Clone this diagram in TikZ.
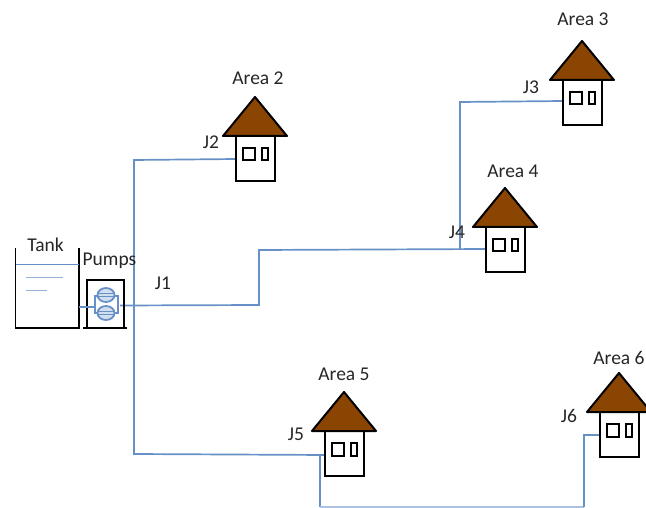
\documentclass[tikz,border=0pt]{standalone}
\usepackage{fontspec}
\setmainfont{Carlito}
\definecolor{pipe}{HTML}{6690C6}
\definecolor{roof}{HTML}{8B4503}
\tikzset{
  x=1pt,y=-1pt,
  pipeline/.style={draw=pipe,line width=1.7pt},
  wall/.style={draw=black,line width=2pt},
  lbl/.style={font=\fontsize{19.5}{22}\selectfont,text=black!85,inner sep=0pt},
  house/.pic={
    \draw[wall,fill=white] (-19,39) rectangle (20,84);
    \draw[wall,fill=roof,line join=round] (0,0) -- (32,39) -- (-32,39) -- cycle;
    \draw[wall,fill=white] (-12.5,51) rectangle (0,63.5);
    \draw[wall,fill=white] (6.5,51) rectangle (13,63.5);
  }
}
\begin{document}
\begin{tikzpicture}
\useasboundingbox (0,0) rectangle (646,508);
\coordinate (main top) at (134,160);
\coordinate (main bot) at (134,454);
\coordinate (pump out) at (120,305.5);
\coordinate (j1a) at (259,305);
\coordinate (j1b) at (259,250);
\coordinate (j4in) at (487,249);
\coordinate (j3a) at (460,249.5);
\coordinate (j3b) at (460,102);
\coordinate (j3in) at (563,101);
\coordinate (j2in) at (236,159);
\coordinate (j5a) at (320,455);
\coordinate (j5in) at (326,455);
\coordinate (j5b) at (320,507);
\coordinate (j6a) at (584,507);
\coordinate (j6b) at (584,435);
\coordinate (j6in) at (601,435);
% pipes
\draw[pipeline] (j2in) -- (main top) -- (main bot) -- (j5in);
\draw[pipeline] (pump out) -- (j1a) -- (j1b) -- (j4in);
\draw[pipeline] (j3a) -- (j3b) -- (j3in);
\draw[pipeline] (j5a) -- (j5b);
\draw[draw=pipe!55,line width=1.2pt] (j5b) -- (j6a);
\draw[pipeline] (j6a) -- (j6b) -- (j6in);
% houses
\pic at (255,97) {house};
\pic at (582,41) {house};
\pic at (505,188) {house};
\pic at (344,392) {house};
\pic at (619,373) {house};
% tank
\draw[wall,line width=1.5pt] (15.5,248) -- (15.5,328) -- (79,328) -- (79,248);
\draw[draw=pipe,line width=.7pt] (16,264) -- (79,264);
\draw[draw=pipe!70,line width=.7pt] (26,277) -- (63,277);
\draw[draw=pipe!70,line width=.7pt] (26,290) -- (47,290);
% pumps
\draw[wall,line width=1.5pt] (87,328) -- (87,280) -- (124,280) -- (124,328);
\draw[wall,line width=1.5pt] (83,328) -- (127,328);
\draw[pipeline] (79,307) -- (95,307);
\draw[pipeline] (95,307) -- (95,296) -- (118,296) -- (118,313) -- (95,313) -- (95,307);
\foreach \yy in {295,313}{
  \draw[draw=pipe,line width=1.8pt,fill=pipe!30] (106,\yy) ellipse (8.5 and 7);
  \draw[draw=pipe,line width=.7pt] (98,\yy-1.5) -- (114,\yy-1.5) (98,\yy+1.5) -- (114,\yy+1.5);
}
% labels
\node[lbl] (tank) at (45.5,245) {Tank};
\node[lbl] (pumps) at (109.5,261) {Pumps};
\node[lbl] (J1) at (163,283) {J1};
\node[lbl] (J2) at (211,142) {J2};
\node[lbl] (J3) at (531,87) {J3};
\node[lbl] (J4) at (457,232) {J4};
\node[lbl] (J5) at (296,434) {J5};
\node[lbl] (J6) at (569,416) {J6};
\node[lbl] (A2) at (258,78) {Area 2};
\node[lbl] (A3) at (583,19) {Area 3};
\node[lbl] (A4) at (513,171) {Area 4};
\node[lbl] (A5) at (344,374) {Area 5};
\node[lbl] (A6) at (619,358) {Area 6};
\end{tikzpicture}
\end{document}
